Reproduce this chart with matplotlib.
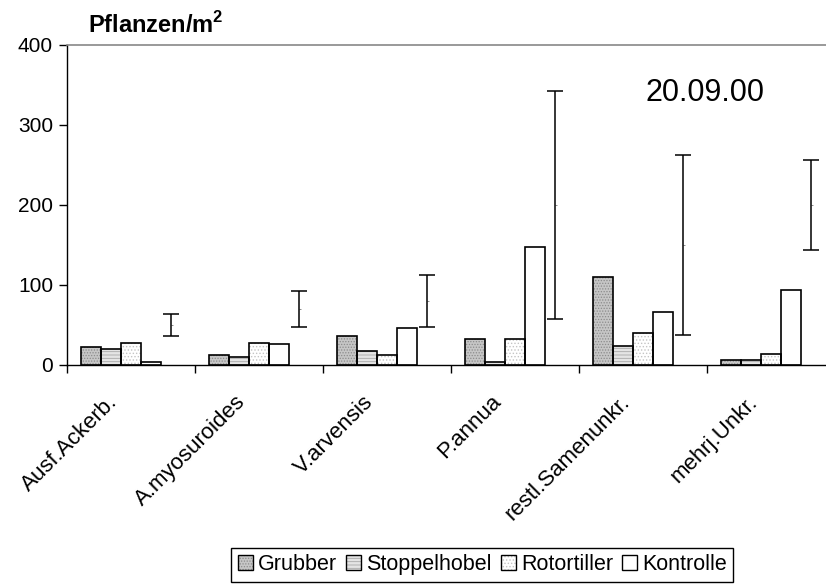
import matplotlib
matplotlib.use('Agg')
import matplotlib.pyplot as plt
from matplotlib.patches import Patch
from matplotlib.legend_handler import HandlerTuple
import numpy as np

plt.rcParams['font.family'] = ['Liberation Sans', 'DejaVu Sans']
plt.rcParams['mathtext.fontset'] = 'custom'
plt.rcParams['mathtext.rm'] = 'Liberation Sans'
plt.rcParams['mathtext.bf'] = 'Liberation Sans:bold'
plt.rcParams['hatch.linewidth'] = 0.6

categories = ['Ausf.Ackerb.', 'A.myosuroides', 'V.arvensis', 'P.annua',
              'restl.Samenunkr.', 'mehrj.Unkr.']
series = ['Grubber', 'Stoppelhobel', 'Rotortiller', 'Kontrolle']
grubber = [22, 12, 36, 32, 110, 6]
stoppelhobel = [20, 10, 18, 4, 24, 6]
rotortiller = [28, 28, 12, 32, 40, 14]
kontrolle = [4, 26, 46, 148, 66, 94]
# range shown as error bar next to each group
range_mid = [50, 70, 80, 200, 150, 200]
range_err = [14, 22, 32, 142, 112, 56]

values = [grubber, stoppelhobel, rotortiller, kontrolle]
styles = [
    dict(face='#c6c6c6', hatch='......', hcol='#8c8c8c'),
    dict(face='#e4e4e4', hatch='-----', hcol='#a8a8a8'),
    dict(face='white', hatch='.....', hcol='#c4c4c4'),
    dict(face='white', hatch='', hcol='white'),
]

fig = plt.figure(figsize=(8.26, 5.84), dpi=100)
ax = fig.add_axes([0.0811, 0.375, 0.930, 0.548])

x = np.arange(len(categories))
width = 20 / 128
offsets = np.array([24, 44, 64, 84]) / 128

for vals, off, st in zip(values, offsets, styles):
    ax.bar(x + off, vals, width, color=st['face'], hatch=st['hatch'],
           edgecolor=st['hcol'], linewidth=0, zorder=2)
    ax.bar(x + off, vals, width, fill=False, edgecolor='black',
           linewidth=1.2, zorder=3)

ax.errorbar(x + 104 / 128, range_mid, yerr=range_err, fmt='none',
            ecolor='black', elinewidth=1.1, capsize=5.6, capthick=1.1, zorder=4)
ax.plot(x + 104 / 128 + 0.008, range_mid, ls='none', marker='_',
        ms=2, color='#777777', mew=0.6)

ax.set_xlim(0, 6)
ax.set_ylim(0, 400)
ax.set_yticks([0, 100, 200, 300, 400])
ax.set_xticks(np.arange(0, 7))
ax.set_xticklabels([])
ax.set_xticks(x + 0.31, minor=True)
ax.set_xticklabels(categories, minor=True, rotation=45, ha='right',
                   va='top', rotation_mode='anchor', fontsize=16)
ax.tick_params(axis='x', which='minor', length=0, pad=19)
ax.tick_params(axis='x', which='major', length=6, width=1, direction='out')
ax.tick_params(axis='y', length=6, width=1, direction='out', labelsize=15,
               pad=4)

ax.spines['right'].set_visible(False)
ax.spines['top'].set_color('#888888')
ax.spines['top'].set_linewidth(1.2)
ax.spines['left'].set_linewidth(1.0)
ax.spines['bottom'].set_linewidth(1.0)
for s in ['top', 'left', 'bottom']:
    ax.spines[s].set_clip_on(False)

ax.text(4.517, 330, '20.09.00', fontsize=22, va='baseline', ha='left')

fig.text(0.1065, 0.943, r'Pflanzen/m$^\mathbf{2}$', fontsize=17,
         fontweight='bold', va='baseline', ha='left')

handles = []
for st in styles:
    h1 = Patch(facecolor=st['face'], hatch=st['hatch'], edgecolor=st['hcol'],
               linewidth=0)
    h2 = Patch(fill=False, edgecolor='black', linewidth=1.0)
    handles.append((h1, h2))

leg = fig.legend(handles, series, loc='upper center', ncol=4,
                 bbox_to_anchor=(0.584, 0.062), fontsize=15.5, frameon=True,
                 fancybox=False, framealpha=1, edgecolor='black',
                 handlelength=0.7, handleheight=0.7, handletextpad=0.25,
                 columnspacing=0.4, borderpad=0.3, borderaxespad=0,
                 handler_map={tuple: HandlerTuple(ndivide=1, pad=0)})
leg.get_frame().set_linewidth(1.0)

fig.savefig('out.png', dpi=100)
